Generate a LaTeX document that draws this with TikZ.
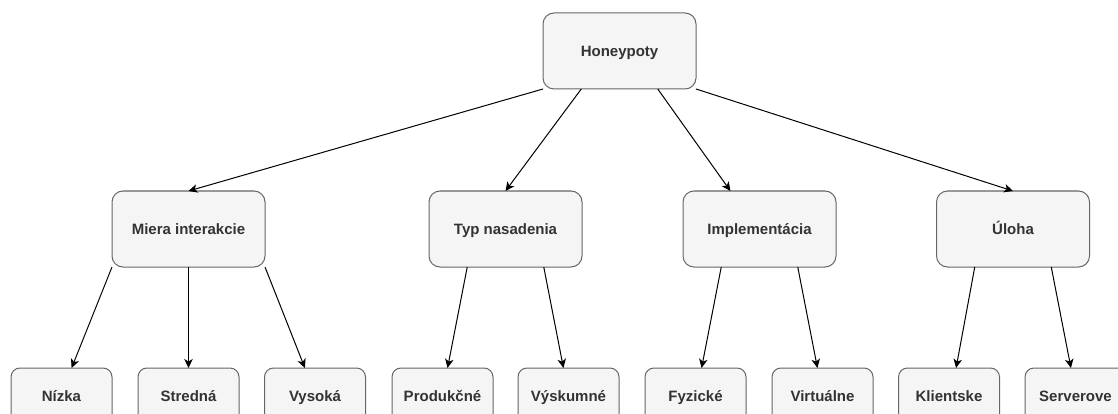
\documentclass[tikz,border=0pt]{standalone}
\usepackage{fontspec}
\setmainfont{Liberation Sans}
\usetikzlibrary{arrows.meta,calc}

\definecolor{boxfill}{HTML}{F5F5F5}
\definecolor{boxline}{HTML}{666666}
\definecolor{boxtext}{HTML}{333333}

\tikzset{
  catbox/.style={draw=boxline, fill=boxfill, line width=1pt, rounded corners=11pt,
    minimum width=153pt, minimum height=76pt, inner sep=0pt, outer sep=0pt,
    text height=10.8pt, text depth=0pt,
    text=boxtext, font=\fontsize{15}{18}\selectfont\bfseries},
  leafbox/.style={catbox, minimum width=101pt, minimum height=56pt, rounded corners=9pt},
  link/.style={draw=black, line width=1pt,
    -{Stealth[length=9pt, width=8.5pt, inset=2.5pt]}}
}

% point at fraction #2 along the bottom edge of node #1
\newcommand{\lowpt}[2]{($(#1.south west)!#2!(#1.south east)$)}
% point at fraction #2 along the top edge of node #1
\newcommand{\toppt}[2]{($(#1.north west)!#2!(#1.north east)$)}

\begin{document}
\begin{tikzpicture}[x=1pt, y=-1pt]
  \useasboundingbox (0,0) rectangle (1118,414);
  \fill[white] (0,0) rectangle (1118,414);
  \clip (0,0) rectangle (1118,414);

  % root
  \node[catbox] (root) at (619.5,51) {Honeypoty};

  % categories
  \node[catbox] (miera) at (188.5,229) {Miera interakcie};
  \node[catbox] (typ)   at (505.5,229) {Typ nasadenia};
  \node[catbox] (impl)  at (759.5,229) {Implementácia};
  \node[catbox] (uloha) at (1013,229)  {Úloha};

  % leaves
  \node[leafbox] (nizka)     at (61.5,396)   {Nízka};
  \node[leafbox] (stredna)   at (188.5,396)  {Stredná};
  \node[leafbox] (vysoka)    at (315,396)    {Vysoká};
  \node[leafbox] (produkcne) at (442.5,396)  {Produkčné};
  \node[leafbox] (vyskumne)  at (568.5,396)  {Výskumné};
  \node[leafbox] (fyzicke)   at (695.5,396)  {Fyzické};
  \node[leafbox] (virtualne) at (822.5,396)  {Virtuálne};
  \node[leafbox] (klientske) at (949,396)    {Klientske};
  \node[leafbox] (serverove) at (1075.5,396) {Serverove};

  % root to categories
  \draw[link] \lowpt{root}{0}    -- \toppt{miera}{0.5};
  \draw[link] \lowpt{root}{0.25} -- \toppt{typ}{0.5};
  \draw[link] \lowpt{root}{0.75} -- \toppt{impl}{0.31};
  \draw[link] \lowpt{root}{1}    -- \toppt{uloha}{0.5};

  % categories to leaves
  \draw[link] \lowpt{miera}{0}    -- \toppt{nizka}{0.6};
  \draw[link] \lowpt{miera}{0.5}  -- \toppt{stredna}{0.5};
  \draw[link] \lowpt{miera}{1}    -- \toppt{vysoka}{0.4};
  \draw[link] \lowpt{typ}{0.25}   -- \toppt{produkcne}{0.55};
  \draw[link] \lowpt{typ}{0.75}   -- \toppt{vyskumne}{0.45};
  \draw[link] \lowpt{impl}{0.25}  -- \toppt{fyzicke}{0.56};
  \draw[link] \lowpt{impl}{0.75}  -- \toppt{virtualne}{0.45};
  \draw[link] \lowpt{uloha}{0.25} -- \toppt{klientske}{0.57};
  \draw[link] \lowpt{uloha}{0.75} -- \toppt{serverove}{0.455};
\end{tikzpicture}
\end{document}
